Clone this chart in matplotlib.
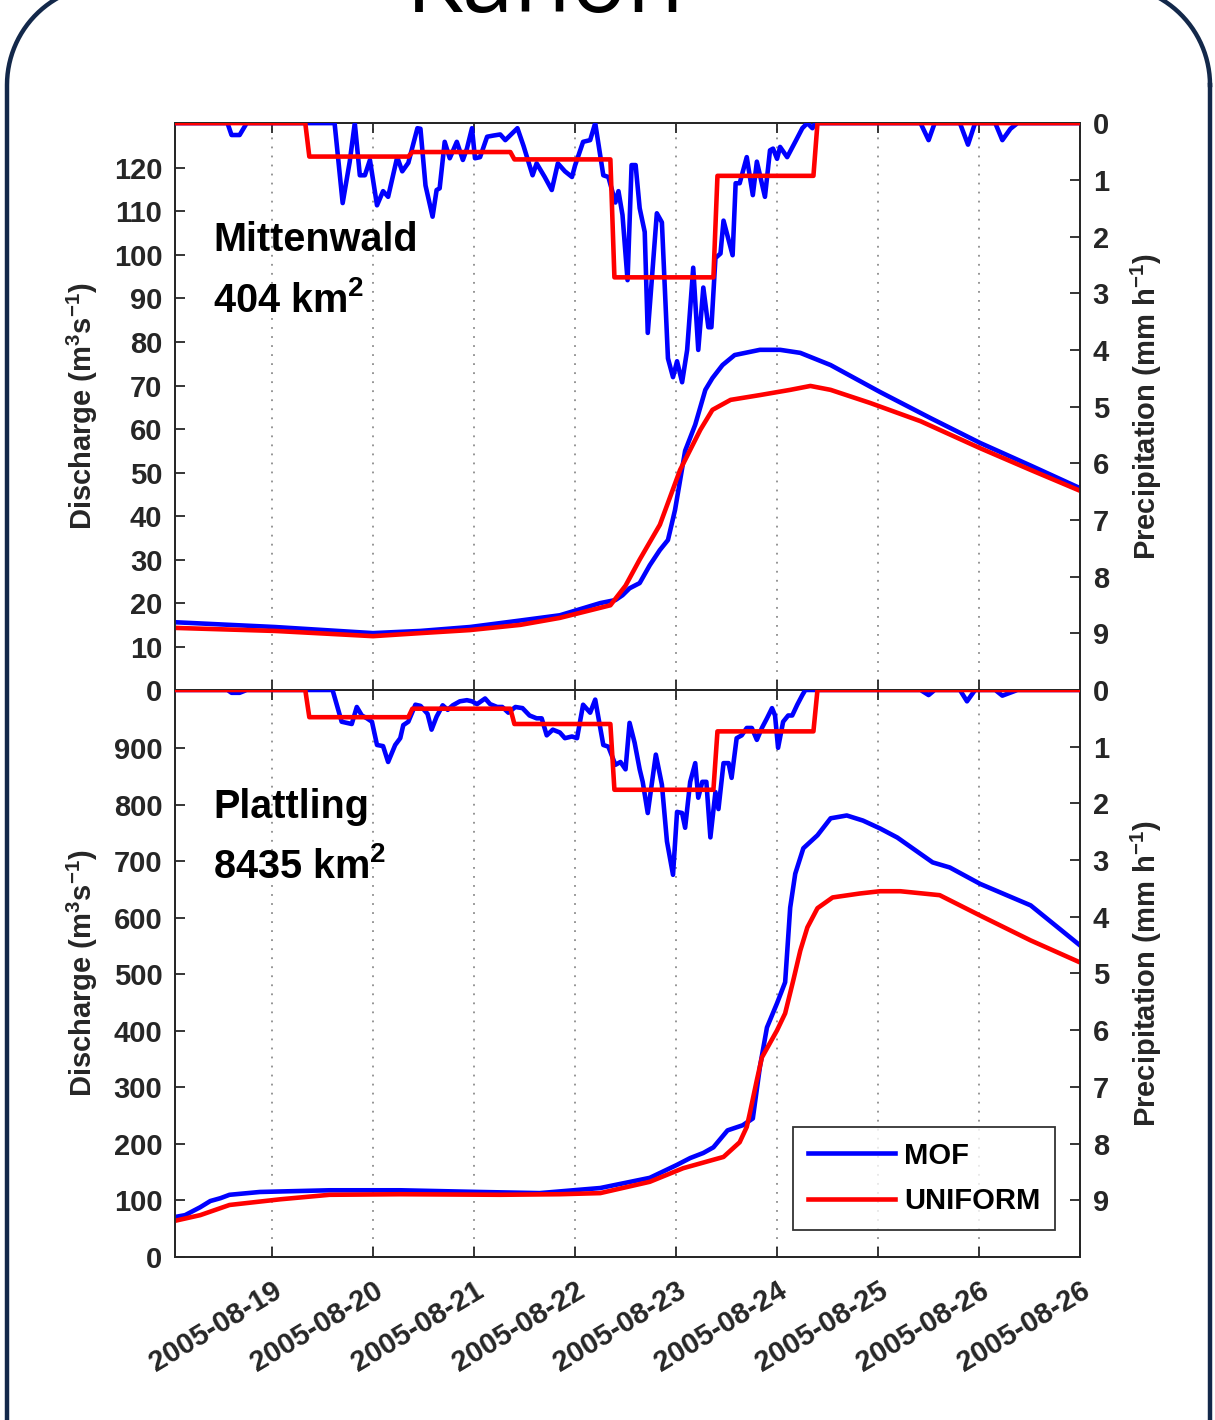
import matplotlib
matplotlib.use('Agg')
import matplotlib.pyplot as plt
from matplotlib.lines import Line2D
import numpy as np

plt.rcParams['font.family'] = ['Liberation Sans', 'DejaVu Sans']
plt.rcParams['font.weight'] = 'bold'
plt.rcParams['axes.labelweight'] = 'bold'
plt.rcParams['mathtext.fontset'] = 'custom'
plt.rcParams['mathtext.rm'] = 'Liberation Sans:bold'
plt.rcParams['mathtext.bf'] = 'Liberation Sans:bold'
plt.rcParams['mathtext.default'] = 'bf'

# --- dane (czas w dniach od poczatku okna) ---
tick_days = [0.96, 1.96, 2.96, 3.96, 4.96, 5.96, 6.96, 7.96, 8.96]
tick_labels = ['2005-08-19', '2005-08-20', '2005-08-21', '2005-08-22', '2005-08-23',
               '2005-08-24', '2005-08-25', '2005-08-26', '2005-08-26']
t_end = 8.96

# Mittenwald - opad MOF (mm/h)
mit_mof_t = [0, 0.52, 0.56, 0.64, 0.71, 1.58, 1.66, 1.73, 1.78, 1.83, 1.88, 1.93, 2.00, 2.06, 2.11,
             2.20, 2.25, 2.31, 2.40, 2.43, 2.48, 2.55, 2.59, 2.62, 2.67, 2.72, 2.79, 2.85, 2.89,
             2.94, 2.97, 3.02, 3.09, 3.15, 3.22, 3.27, 3.39, 3.45, 3.54, 3.58, 3.66, 3.73, 3.79,
             3.86, 3.93, 3.96, 4.04, 4.11, 4.16, 4.24, 4.29, 4.36, 4.39, 4.43, 4.48, 4.52, 4.56,
             4.60, 4.65, 4.68, 4.77, 4.82, 4.88, 4.93, 4.97, 5.02, 5.07, 5.13, 5.18, 5.23, 5.28,
             5.31, 5.35, 5.40, 5.43, 5.52, 5.55, 5.59, 5.66, 5.72, 5.76, 5.84, 5.89, 5.92, 5.96,
             5.99, 6.06, 6.14, 6.21, 6.26, 6.31, 6.34, 7.38, 7.46, 7.52, 7.77, 7.85, 7.92, 8.12,
             8.19, 8.27, 8.34, 8.96]
mit_mof_p = [0, 0, 0.21, 0.21, 0, 0, 1.41, 0.68, 0, 0.92, 0.92, 0.65, 1.45, 1.2, 1.3,
             0.6, 0.85, 0.7, 0.09, 0.1, 1.1, 1.65, 1.18, 1.15, 0.33, 0.62, 0.33, 0.65, 0.45,
             0.09, 0.62, 0.6, 0.24, 0.22, 0.2, 0.3, 0.09, 0.4, 0.92, 0.71, 0.95, 1.18, 0.71,
             0.85, 0.95, 0.75, 0.33, 0.3, 0.0, 0.92, 0.95, 1.4, 1.2, 1.62, 2.77, 0.74, 0.74,
             1.5, 1.92, 3.7, 1.59, 1.75, 4.15, 4.48, 4.2, 4.57, 4.0, 2.55, 4.0, 2.9, 3.6,
             3.6, 2.38, 2.3, 1.72, 2.33, 1.06, 1.06, 0.6, 1.27, 0.68, 1.3, 0.48, 0.45, 0.63,
             0.42, 0.6, 0.33, 0.09, 0, 0.09, 0, 0, 0.3, 0, 0, 0.38, 0, 0,
             0.3, 0.1, 0, 0]

# Plattling - opad MOF (mm/h)
pla_mof_t = [0, 0.52, 0.56, 0.64, 0.71, 1.56, 1.65, 1.70, 1.75, 1.80, 1.85, 1.90, 1.95, 2.00, 2.06,
             2.11, 2.18, 2.23, 2.26, 2.31, 2.38, 2.43, 2.50, 2.54, 2.59, 2.65, 2.70, 2.75, 2.82,
             2.89, 2.94, 2.99, 3.07, 3.12, 3.19, 3.24, 3.30, 3.37, 3.44, 3.51, 3.58, 3.63, 3.68,
             3.74, 3.81, 3.86, 3.93, 3.98, 4.04, 4.11, 4.16, 4.24, 4.29, 4.36, 4.41, 4.46, 4.50,
             4.55, 4.60, 4.63, 4.68, 4.76, 4.82, 4.87, 4.93, 4.97, 5.02, 5.05, 5.10, 5.15, 5.18,
             5.22, 5.26, 5.30, 5.35, 5.38, 5.43, 5.48, 5.51, 5.56, 5.61, 5.66, 5.71, 5.76, 5.81,
             5.86, 5.91, 5.94, 5.97, 6.02, 6.07, 6.11, 6.16, 6.21, 6.24, 7.38, 7.46, 7.52, 7.77,
             7.84, 7.92, 8.12, 8.19, 8.34, 8.96]
pla_mof_p = [0, 0, 0.05, 0.05, 0, 0, 0.56, 0.58, 0.6, 0.3, 0.45, 0.5, 0.56, 0.97, 0.99,
             1.27, 0.97, 0.85, 0.62, 0.56, 0.26, 0.28, 0.42, 0.7, 0.47, 0.27, 0.35, 0.27, 0.2,
             0.18, 0.2, 0.25, 0.15, 0.25, 0.3, 0.3, 0.4, 0.3, 0.32, 0.45, 0.5, 0.5, 0.8,
             0.7, 0.75, 0.85, 0.82, 0.85, 0.26, 0.4, 0.17, 0.97, 1.0, 1.32, 1.27, 1.4, 0.58,
             0.93, 1.4, 1.62, 2.17, 1.14, 1.67, 2.67, 3.26, 2.15, 2.17, 2.43, 1.62, 1.29, 1.9,
             1.62, 1.62, 2.6, 1.8, 2.1, 1.29, 1.29, 1.55, 0.85, 0.8, 0.67, 0.67, 0.88, 0.67,
             0.5, 0.32, 0.45, 1.02, 0.56, 0.45, 0.45, 0.26, 0.09, 0, 0, 0.09, 0, 0,
             0.2, 0, 0, 0.1, 0, 0]

# opad UNIFORM - wartosci dobowe (mm/h) miedzy granicami
uni_edges = [1.29, 2.31, 3.32, 4.31, 5.33, 6.32]
mit_uni_vals = [0.59, 0.51, 0.64, 2.72, 0.93]
pla_uni_vals = [0.48, 0.33, 0.60, 1.76, 0.73]

# Mittenwald - przeplyw (m3/s)
mit_q_mof_t = [0, 0.99, 1.96, 2.43, 2.92, 3.42, 3.81, 4.21, 4.36, 4.43, 4.50, 4.60, 4.70, 4.80,
               4.88, 4.95, 5.05, 5.15, 5.25, 5.32, 5.42, 5.54, 5.79, 5.99, 6.19, 6.49, 6.98,
               7.48, 7.97, 8.47, 8.96]
mit_q_mof = [15.6, 14.5, 13.1, 13.6, 14.5, 16.0, 17.2, 20.0, 20.7, 21.8, 23.4, 24.6, 28.7, 32.2,
             34.5, 41.4, 55.0, 61.0, 69.0, 71.7, 74.7, 77.0, 78.2, 78.2, 77.5, 74.7, 68.5,
             62.5, 56.8, 51.6, 46.4]
mit_q_uni_t = [0, 0.99, 1.96, 2.43, 2.92, 3.42, 3.81, 4.31, 4.46, 4.60, 4.80, 5.00, 5.20, 5.32,
               5.50, 5.79, 6.09, 6.29, 6.49, 6.88, 7.38, 7.97, 8.47, 8.96]
mit_q_uni = [14.3, 13.6, 12.4, 13.1, 13.8, 15.0, 16.6, 19.5, 24.0, 30.0, 38.0, 50.6, 59.8, 64.4,
             66.7, 67.8, 69.0, 69.9, 69.0, 66.0, 61.8, 55.6, 50.6, 45.8]

# Plattling - przeplyw (m3/s)
pla_q_mof_t = [0, 0.10, 0.25, 0.35, 0.45, 0.54, 0.84, 1.53, 2.23, 3.02, 3.61, 4.21, 4.70, 4.97,
               5.10, 5.23, 5.33, 5.47, 5.62, 5.72, 5.79, 5.86, 5.96, 6.04, 6.09, 6.14, 6.22,
               6.36, 6.49, 6.65, 6.81, 6.98, 7.15, 7.50, 7.67, 7.97, 8.47, 8.96]
pla_q_mof = [70.7, 74, 88, 99, 104, 110, 115, 118, 118, 115, 113, 122, 140, 163,
             175, 184, 194, 224, 233, 245, 336, 406, 449, 486, 618, 678, 723,
             746, 776, 781, 772, 758, 742, 698, 689, 660, 622, 551]
pla_q_uni_t = [0, 0.25, 0.54, 1.04, 1.53, 2.23, 3.22, 3.81, 4.21, 4.70, 5.03, 5.43, 5.59, 5.66,
               5.69, 5.76, 5.81, 5.96, 6.04, 6.12, 6.19, 6.26, 6.36, 6.51, 6.78, 6.98, 7.18,
               7.57, 7.97, 8.47, 8.96]
pla_q_uni = [64, 74, 92, 102, 110, 111, 110, 111, 113, 133, 157, 177, 203, 230,
             254, 313, 353, 401, 431, 489, 542, 583, 617, 636, 643, 647, 647,
             640, 604, 560, 521]

BLUE = (0, 0, 1)
RED = (1, 0, 0)
INK = '#262626'
FS = 21
LW = 3.3


def step_line(edges, vals, ramp=0.04):
    # linia schodkowa z krotkim przejsciem (dane godzinowe)
    t = [0, edges[0]]
    p = [0, 0]
    for i, v in enumerate(vals):
        t += [edges[i] + ramp, edges[i + 1]]
        p += [v, v]
    t += [edges[-1] + ramp, t_end]
    p += [0, 0]
    return t, p


def panel(ax, q_mof_t, q_mof, q_uni_t, q_uni, p_mof_t, p_mof, uni_vals, qmax, qticks, name, area):
    ax.plot(q_mof_t, q_mof, color=BLUE, lw=LW, zorder=3)
    ax.plot(q_uni_t, q_uni, color=RED, lw=LW, zorder=4)
    ax.set_xlim(0, t_end)
    ax.set_ylim(0, qmax)
    ax.set_yticks(qticks)
    ax.set_xticks(tick_days)
    ax.grid(axis='x', linestyle=(0, (1, 4)), color='#8c8c8c', lw=1.3)
    ax.tick_params(axis='both', direction='in', length=7, width=1.3, colors=INK,
                   labelsize=FS, top=True, right=False, pad=9)
    ax.set_ylabel('Discharge (m$^3$s$^{-1}$)', fontsize=FS, fontweight='bold', color=INK,
                  labelpad=10)
    for s in ax.spines.values():
        s.set_color(INK)
        s.set_linewidth(1.3)

    ax2 = ax.twinx()
    ax2.plot(p_mof_t, p_mof, color=BLUE, lw=LW, zorder=3)
    ut, up = step_line(uni_edges, uni_vals)
    ax2.plot(ut, up, color=RED, lw=LW, zorder=4)
    ax2.set_ylim(10, 0)
    ax2.set_yticks(range(0, 10))
    ax2.tick_params(axis='y', direction='in', length=7, width=1.3, colors=INK,
                    labelsize=FS, pad=9)
    ax2.set_ylabel('Precipitation (mm h$^{-1}$)', fontsize=FS, fontweight='bold', color=INK,
                   labelpad=14)
    for s in ax2.spines.values():
        s.set_color(INK)
        s.set_linewidth(1.3)

    ax.text(0.042, 0.794, name, transform=ax.transAxes, fontsize=28.5, fontweight='bold',
            va='center', ha='left', color='black')
    ax.text(0.042, 0.688, area, transform=ax.transAxes, fontsize=28.5, fontweight='bold',
            va='center', ha='left', color='black')
    return ax2


fig = plt.figure(figsize=(12.15, 14.2), dpi=100)

ax_top = fig.add_axes([0.144, 0.514, 0.745, 0.3993])
ax_bot = fig.add_axes([0.144, 0.1148, 0.745, 0.3993])

panel(ax_top, mit_q_mof_t, mit_q_mof, mit_q_uni_t, mit_q_uni, mit_mof_t, mit_mof_p,
      mit_uni_vals, 130.3, range(0, 130, 10), 'Mittenwald', '404 km$^2$')
ax_top.tick_params(axis='x', labelbottom=False)

ax2_bot = panel(ax_bot, pla_q_mof_t, pla_q_mof, pla_q_uni_t, pla_q_uni, pla_mof_t, pla_mof_p,
                pla_uni_vals, 1003, range(0, 1000, 100), 'Plattling', '8435 km$^2$')
ax_bot.set_xticklabels(tick_labels, rotation=31, ha='right', va='top', rotation_mode='anchor')
ax_bot.tick_params(axis='x', pad=14)

h1, = ax_bot.plot([], [], color=BLUE, lw=LW, label='MOF')
h2, = ax_bot.plot([], [], color=RED, lw=LW, label='UNIFORM')
leg = ax2_bot.legend(handles=[h1, h2], loc='lower right', bbox_to_anchor=(0.972, 0.048),
                     fontsize=FS, frameon=True, fancybox=False, edgecolor='black',
                     handlelength=3.0, borderpad=0.5, labelspacing=0.6, handletextpad=0.3,
                     borderaxespad=0)
leg.get_frame().set_linewidth(1.3)
for txt in leg.get_texts():
    txt.set_fontweight('bold')
    txt.set_color('black')


# ramka slajdu (w calach, zaokraglone rogi)
def rounded_outline(x0, y0, x1, y1, r, n=30):
    xs, ys = [], []
    corners = [(x1 - r, y1 - r, 0), (x0 + r, y1 - r, 90), (x0 + r, y0 + r, 180), (x1 - r, y0 + r, 270)]
    for cx, cy, a0 in corners:
        ang = np.radians(np.linspace(a0, a0 + 90, n))
        xs += list(cx + r * np.cos(ang))
        ys += list(cy + r * np.sin(ang))
    xs.append(xs[0])
    ys.append(ys[0])
    return xs, ys


bx, by = rounded_outline(0.07, -1.0, 12.10, 14.35, 1.0)
fig.add_artist(Line2D(bx, by, transform=fig.dpi_scale_trans, color='#13284a', lw=3.2,
                      solid_joinstyle='round'))

fig.text(0.4486, 1 - 12 / 1420, 'Kahon', ha='center', va='baseline', fontsize=67,
         fontweight='normal', family=['Open Sans', 'DejaVu Sans'], color='black')

fig.savefig('out.png', dpi=100, facecolor='white')
